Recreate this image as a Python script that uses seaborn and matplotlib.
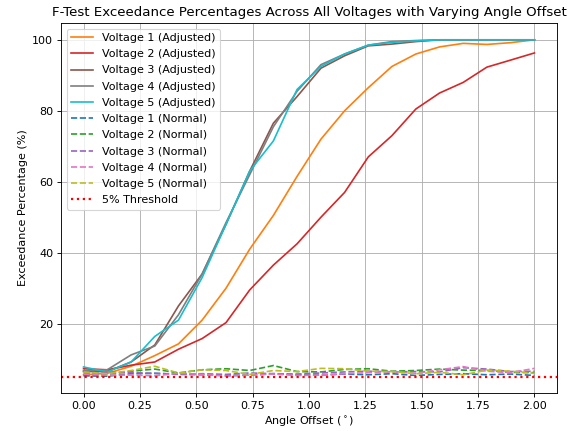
import numpy as np
import pandas as pd
import matplotlib
matplotlib.use("Agg")
import matplotlib.pyplot as plt
import seaborn as sns

# angle offsets (deg), 20 steps from 0 to 2
angles = [0.000, 0.105, 0.211, 0.316, 0.421, 0.526, 0.632, 0.737, 0.842, 0.947,
          1.053, 1.158, 1.263, 1.368, 1.474, 1.579, 1.684, 1.789, 1.895, 2.000]

# exceedance % with adjusted offset
adj_v1 = [5.6, 6.0, 8.0, 11.0, 14.3, 21.0, 30.0, 41.0, 50.5, 61.5,
          72.0, 80.0, 86.5, 92.5, 96.0, 98.0, 99.0, 98.7, 99.2, 100.0]
adj_v2 = [7.3, 7.0, 8.3, 9.2, 12.8, 15.8, 20.3, 29.5, 36.5, 42.5,
          50.0, 57.0, 67.0, 73.0, 80.5, 85.0, 88.0, 92.3, 94.3, 96.3]
adj_v3 = [6.5, 6.5, 9.2, 14.0, 25.0, 34.0, 48.0, 63.0, 76.5, 84.0,
          92.0, 95.5, 98.3, 98.8, 99.5, 100.0, 100.0, 100.0, 100.0, 100.0]
adj_v4 = [6.7, 7.0, 11.2, 13.7, 22.5, 34.0, 48.5, 62.0, 75.5, 85.5,
          93.0, 96.0, 98.5, 99.5, 99.8, 100.0, 100.0, 100.0, 100.0, 100.0]
adj_v5 = [7.8, 6.4, 9.2, 16.4, 21.0, 33.0, 48.0, 63.0, 71.5, 86.0,
          92.5, 96.0, 98.5, 99.3, 99.7, 100.0, 100.0, 100.0, 100.0, 100.0]

# exceedance % without adjustment
norm_v1 = [5.3, 5.2, 5.9, 6.0, 5.7, 5.6, 5.4, 5.5, 5.9, 5.6,
           5.5, 5.8, 5.6, 5.9, 5.4, 5.7, 5.9, 5.6, 5.8, 5.4]
norm_v2 = [5.6, 5.7, 6.6, 7.2, 6.1, 7.0, 7.3, 6.8, 8.2, 6.5,
           6.4, 7.1, 7.3, 6.6, 6.8, 7.2, 6.9, 6.8, 6.3, 6.2]
norm_v3 = [6.0, 6.3, 6.2, 6.0, 5.8, 5.9, 5.7, 6.1, 5.9, 5.8,
           6.1, 6.4, 6.6, 6.4, 6.5, 6.4, 7.6, 7.2, 6.5, 6.6]
norm_v4 = [5.8, 5.5, 5.5, 5.3, 6.0, 5.7, 5.2, 5.5, 5.8, 5.4,
           5.5, 5.9, 6.2, 6.5, 6.0, 7.0, 7.9, 6.6, 6.2, 7.4]
norm_v5 = [6.4, 5.9, 6.8, 8.0, 6.1, 7.0, 6.8, 5.7, 6.8, 6.5,
           7.4, 7.3, 6.6, 6.5, 5.9, 6.3, 5.6, 6.9, 6.6, 6.0]

threshold = 5

adjusted = [adj_v1, adj_v2, adj_v3, adj_v4, adj_v5]
normal = [norm_v1, norm_v2, norm_v3, norm_v4, norm_v5]
adj_colors = ["tab:orange", "tab:red", "tab:brown", "tab:gray", "tab:cyan"]
norm_colors = ["tab:blue", "tab:green", "tab:purple", "tab:pink", "tab:olive"]

fig, ax = plt.subplots(figsize=(574 / 80, 431 / 80), dpi=80)
fig.subplots_adjust(left=61 / 574, right=557 / 574, top=1 - 23 / 431, bottom=1 - 393 / 431)

for i, ys in enumerate(adjusted):
    df = pd.DataFrame({"angle": angles, "pct": ys})
    sns.lineplot(data=df, x="angle", y="pct", ax=ax, color=adj_colors[i],
                 label=f"Voltage {i + 1} (Adjusted)")

for i, ys in enumerate(normal):
    df = pd.DataFrame({"angle": angles, "pct": ys})
    sns.lineplot(data=df, x="angle", y="pct", ax=ax, color=norm_colors[i],
                 linestyle="--", label=f"Voltage {i + 1} (Normal)")

ax.axhline(threshold, color="red", linestyle=":", linewidth=2, label="5% Threshold")

ax.set_title("F-Test Exceedance Percentages Across All Voltages with Varying Angle Offset")
ax.set_xlabel(r"Angle Offset ($^\circ$)")
ax.set_ylabel("Exceedance Percentage (%)")
ax.set_xticks(np.arange(0, 2.01, 0.25))
ax.grid(True)
ax.legend(loc="upper left", labelspacing=0.56)

plt.savefig("out.png", dpi=80)
